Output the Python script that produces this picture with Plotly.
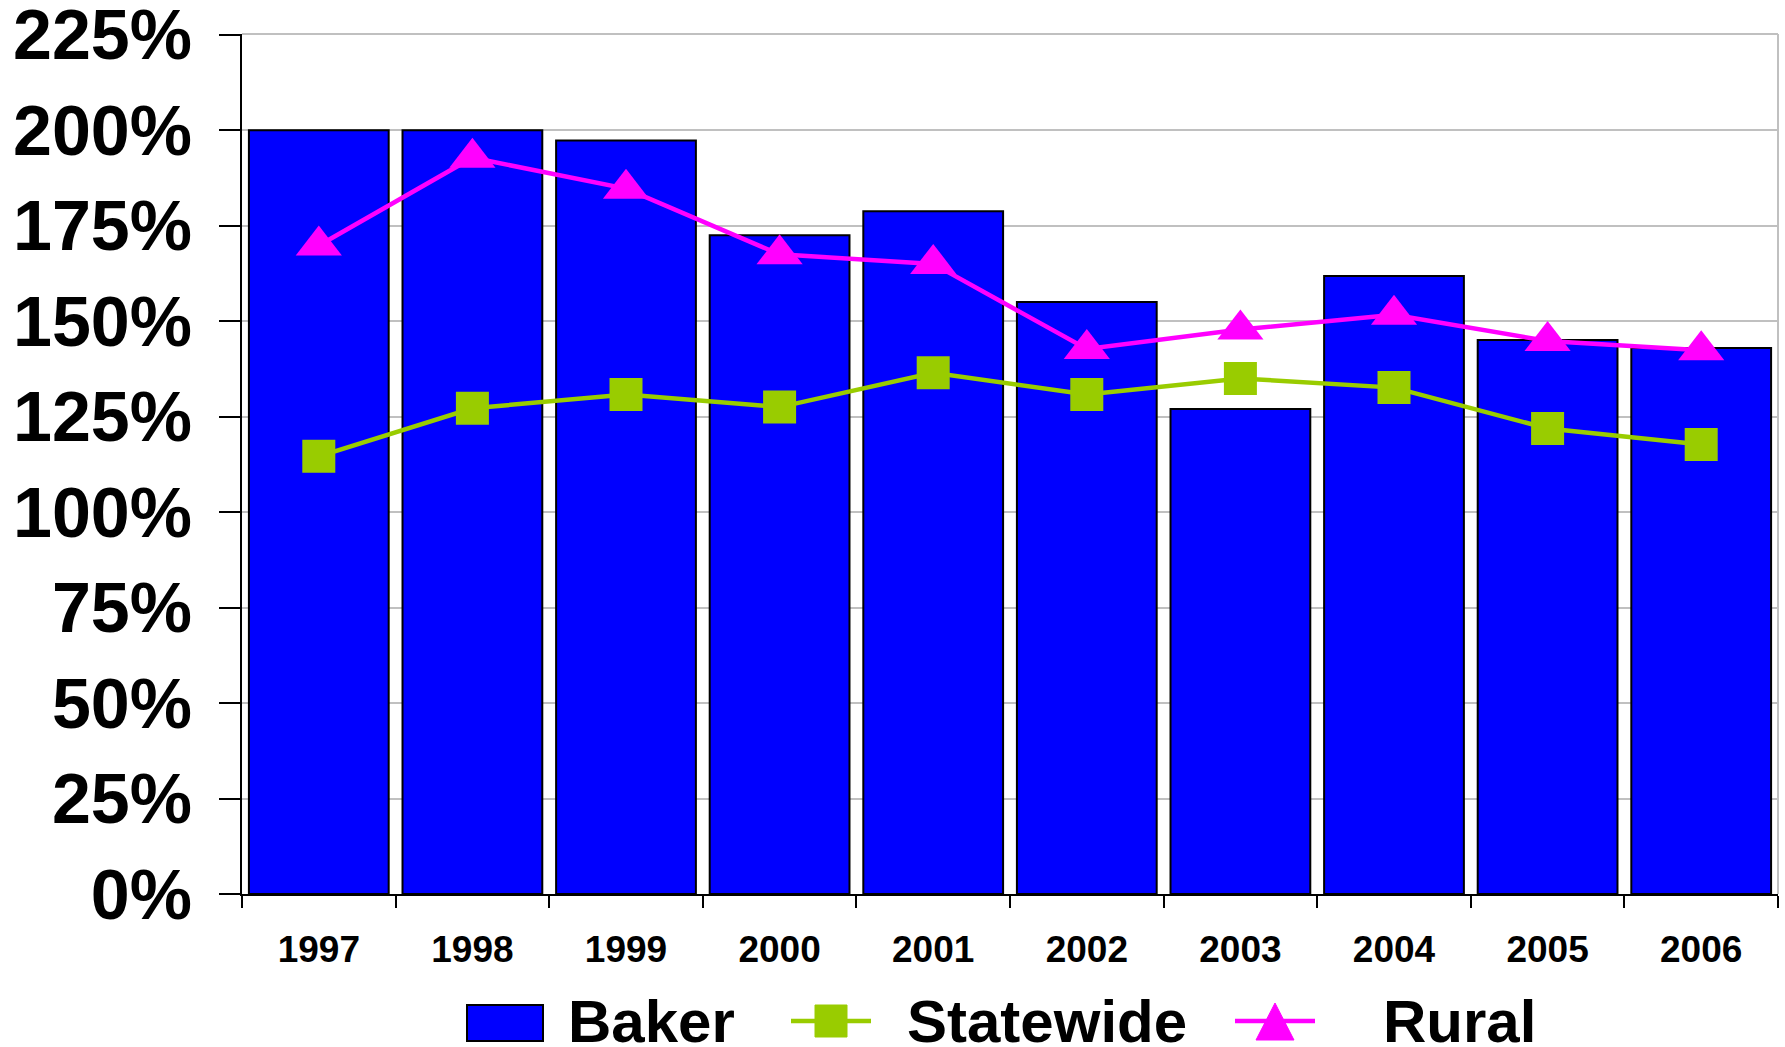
import plotly.graph_objects as go

years = ["1997", "1998", "1999", "2000", "2001", "2002", "2003", "2004", "2005", "2006"]
baker = [200, 200, 197.3, 172.5, 178.8, 155, 127, 161.8, 145.1, 143]
statewide = [114.6, 127.2, 130.8, 127.5, 136.5, 130.8, 135, 132.6, 121.9, 117.7]
rural = [169.8, 192.8, 184.7, 167.5, 165, 142.7, 147.8, 151.7, 144.8, 142.4]
ytick_vals = [0, 25, 50, 75, 100, 125, 150, 175, 200, 225]
ytick_text = [f"{v}%" for v in ytick_vals]
series_names = ["Baker", "Statewide", "Rural"]

FONT = "Liberation Sans, Arial, sans-serif"
BLUE, GREEN, PINK = "#0000FF", "#99CC00", "#FF00FF"

# plot-area geometry (pixels) used to place the hand-drawn legend
W, H = 1785, 1047
L, R, T, B = 242, 7, 34, 153
PW, PH = W - L - R, H - T - B


def px(x):
    return (x - L) / PW


def py(y):
    return (H - B - y) / PH


fig = go.Figure()
fig.add_trace(go.Bar(
    x=years, y=baker, name=series_names[0],
    marker=dict(color=BLUE, line=dict(color="#000000", width=2)),
))
fig.add_trace(go.Scatter(
    x=years, y=statewide, name=series_names[1], mode="lines+markers",
    line=dict(color=GREEN, width=4.5),
    marker=dict(symbol="square", size=33, color=GREEN),
))
fig.add_trace(go.Scatter(
    x=years, y=rural, name=series_names[2], mode="lines+markers",
    line=dict(color=PINK, width=4.5),
    marker=dict(symbol="triangle-up", size=40, color=PINK),
))

fig.update_layout(
    width=W, height=H,
    margin=dict(l=L, r=R, t=T, b=B),
    paper_bgcolor="white", plot_bgcolor="white",
    bargap=0.09,
    showlegend=False,
    xaxis=dict(
        type="category", tickson="boundaries", range=[-0.5, len(years) - 0.5],
        ticks="outside", ticklen=12, tickwidth=2, tickcolor="#000000",
        showline=True, linecolor="#000000", linewidth=2,
        showgrid=False, automargin=False,
        tickfont=dict(family=FONT, size=37, color="#000000", weight="bold"),
        ticklabelstandoff=22,
    ),
    yaxis=dict(
        range=[0, 225.2], tickvals=ytick_vals, ticktext=ytick_text,
        ticks="outside", ticklen=21, tickwidth=2, tickcolor="#000000",
        showline=True, linecolor="#000000", linewidth=2,
        showgrid=True, gridcolor="#C0C0C0", gridwidth=2,
        zeroline=False, automargin=False, ticklabeloverflow="allow",
        tickfont=dict(family=FONT, size=70, color="#000000", weight="bold"),
        ticklabelstandoff=13,
    ),
)
# plot-area border (top and right) in grey
fig.add_shape(type="line", xref="paper", yref="paper", x0=1, x1=1, y0=0, y1=1,
              line=dict(color="#C0C0C0", width=2), layer="below")
fig.add_shape(type="line", xref="paper", yref="paper", x0=0, x1=1, y0=1, y1=1,
              line=dict(color="#C0C0C0", width=2), layer="below")

# ---- legend drawn by hand (large symbols as in the reference) ----
ly = 1021
fig.add_shape(type="rect", xref="paper", yref="paper",
              x0=px(467), x1=px(543), y0=py(1041), y1=py(1005),
              fillcolor=BLUE, line=dict(color="#000000", width=2))
fig.add_shape(type="line", xref="paper", yref="paper",
              x0=px(791), x1=px(871), y0=py(ly), y1=py(ly),
              line=dict(color=GREEN, width=4.5))
fig.add_shape(type="rect", xref="paper", yref="paper",
              x0=px(815), x1=px(847), y0=py(ly + 16), y1=py(ly - 16),
              fillcolor=GREEN, line=dict(color=GREEN, width=1))
fig.add_shape(type="line", xref="paper", yref="paper",
              x0=px(1235), x1=px(1315), y0=py(ly), y1=py(ly),
              line=dict(color=PINK, width=4.5))
fig.add_shape(type="path", xref="paper", yref="paper",
              path=f"M {px(1256)} {py(1040)} L {px(1294)} {py(1040)} L {px(1275)} {py(1003)} Z",
              fillcolor=PINK, line=dict(color=PINK, width=1))

for name, xs in zip(series_names, [566, 905, 1381]):
    fig.add_annotation(xref="paper", yref="paper", x=px(xs), y=py(ly),
                       xanchor="left", yanchor="middle", showarrow=False,
                       text=name,
                       font=dict(family=FONT, size=60, color="#000000", weight="bold"))

fig.write_html(
    "out.html",
    config={"displayModeBar": False},
    post_script="document.body.style.margin='0';document.body.style.overflow='hidden';",
)
